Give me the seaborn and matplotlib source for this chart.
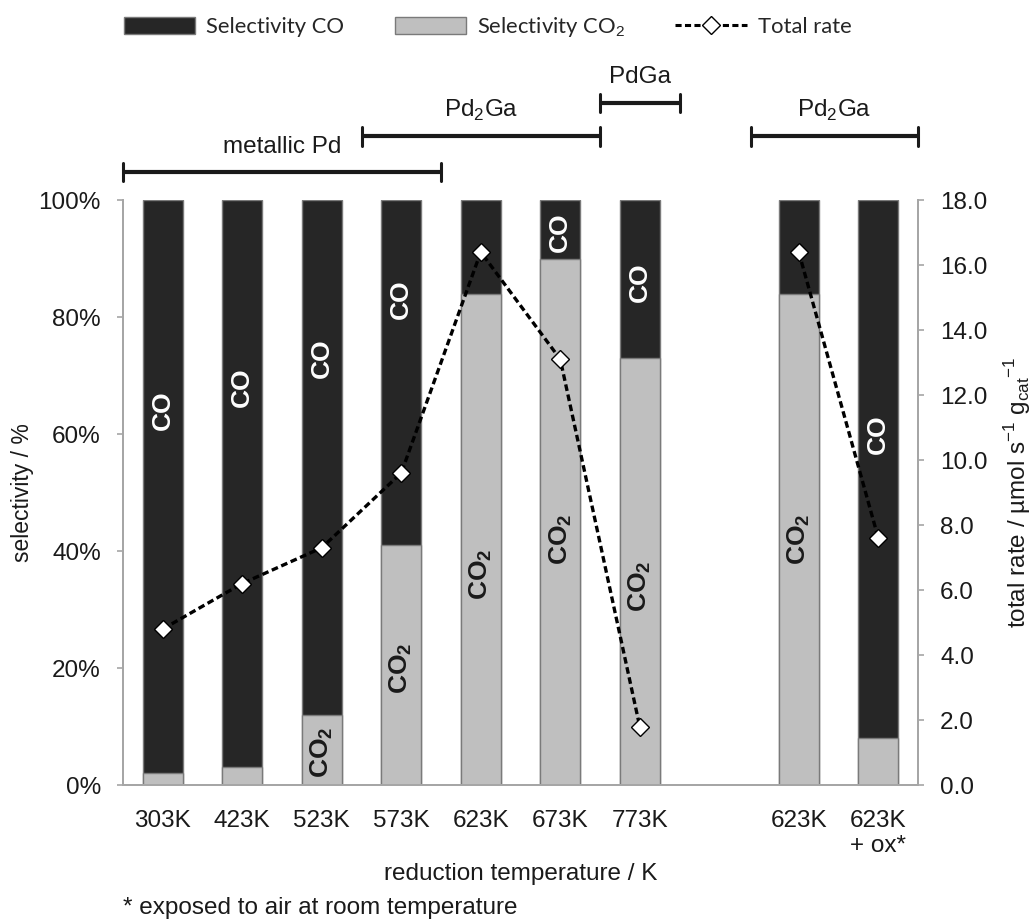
import pandas as pd
import matplotlib.pyplot as plt
import matplotlib.transforms as mtransforms
from matplotlib.patches import Patch
from matplotlib.lines import Line2D
import seaborn as sns

# --- data ---
temps = ["303K", "423K", "523K", "573K", "623K", "673K", "773K", "623K", "623K\n+ ox*"]
sel_co2 = [2, 3, 12, 41, 84, 90, 73, 84, 8]          # % (grey, bottom)
sel_co = [100 - v for v in sel_co2]                   # % (dark, top)
total_rate = [4.8, 6.2, 7.3, 9.6, 16.4, 13.1, 1.8, 16.4, 7.6]  # umol s-1 gcat-1
series_group = [1, 1, 1, 1, 1, 1, 1, 2, 2]             # line is broken between 773K and 623K

# layout (slot positions, gap at slot 7) and in-bar label heights in %
slots = [0, 1, 2, 3, 4, 5, 6, 8, 9]
co_label_y = [64, 68, 73, 83, None, 94.5, 86, None, 60]
co2_label_y = [None, None, 5.5, 20, 36, 42, 34, 42, None]

# phase brackets: (label, x start, x end, bracket height, text height) in axes-fraction y
phases = [("metallic Pd", -0.5, 3.5, 1.048, 1.091),
          ("Pd$_2$Ga", 2.5, 5.5, 1.109, 1.154),
          ("PdGa", 5.5, 6.5, 1.166, 1.210),
          ("Pd$_2$Ga", 7.4, 9.5, 1.109, 1.154)]

DARK = "#262626"
GREY = "#bfbfbf"
EDGE = "#7a7a7a"
AXC = "#a6a6a6"
TXT = "#1a1a1a"
FS = 17.5

sns.set_style("white")
plt.rcParams["font.family"] = ["Liberation Sans", "DejaVu Sans"]
plt.rcParams["mathtext.fontset"] = "custom"
plt.rcParams["mathtext.rm"] = "Liberation Sans"
plt.rcParams["mathtext.bf"] = "Liberation Sans:bold"

df = pd.DataFrame({"slot": slots, "co2": sel_co2, "co": sel_co,
                   "total": [a + b for a, b in zip(sel_co2, sel_co)],
                   "rate": total_rate, "grp": series_group})

fig = plt.figure(figsize=(10.36, 9.21), dpi=100)
ax = fig.add_axes([123 / 1036, 1 - 785 / 921, (918 - 123) / 1036, 585 / 921])

sns.barplot(data=df, x="slot", y="total", native_scale=True, width=0.5,
            color=DARK, edgecolor=EDGE, linewidth=1, saturation=1, ax=ax)
sns.barplot(data=df, x="slot", y="co2", native_scale=True, width=0.5,
            color=GREY, edgecolor=EDGE, linewidth=1, saturation=1, ax=ax)

ax.set_xlim(-0.5, 9.5)
ax.set_ylim(0, 100)
ax.set_yticks([0, 20, 40, 60, 80, 100])
ax.set_yticklabels([f"{v}%" for v in range(0, 101, 20)])
ax.set_xticks(slots)
ax.set_xticklabels(temps, va="top", linespacing=1.2)
ax.set_xlabel("reduction temperature / K", fontsize=FS, labelpad=4, color=TXT)
ax.set_ylabel("selectivity / %", fontsize=16.5, labelpad=3, color=TXT)

for s, yc, yd in zip(slots, co_label_y, co2_label_y):
    if yc is not None:
        ax.text(s, yc, "CO", rotation=90, ha="center", va="center",
                color="white", fontsize=19, fontweight="bold")
    if yd is not None:
        ax.text(s, yd, r"CO$_\mathbf{2}$", rotation=90, ha="center", va="center",
                color=TXT, fontsize=19, fontweight="bold")

ax2 = ax.twinx()
sns.lineplot(data=df, x="slot", y="rate", units="grp", estimator=None, ax=ax2,
             color="black", linewidth=2.4, linestyle=(0, (2, 1.1)),
             marker="D", markersize=9.5, markerfacecolor="white",
             markeredgecolor="black", markeredgewidth=1)
ax2.set_ylim(0, 18)
ax2.set_yticks(range(0, 19, 2))
ax2.set_yticklabels([f"{v:.1f}" for v in range(0, 19, 2)])
ax2.set_ylabel(r"total rate / µmol s$^{\mathregular{-1}}$ g$_{\mathregular{cat}}$$^{\mathregular{-1}}$",
               fontsize=FS, labelpad=10, color=TXT)
ax2.set_xlim(-0.5, 9.5)

for a in (ax, ax2):
    a.spines["top"].set_visible(False)
    for sp in ("left", "right", "bottom"):
        a.spines[sp].set_color(AXC)
        a.spines[sp].set_linewidth(1.3)
    a.tick_params(axis="y", direction="out", length=4, width=1.2, color=AXC,
                  labelsize=FS, pad=12, colors=AXC, labelcolor=TXT)
    a.tick_params(axis="x", length=0, labelsize=FS, pad=18, labelcolor=TXT)
    a.grid(False)

# phase brackets above the plot
trans = mtransforms.blended_transform_factory(ax.transData, ax.transAxes)
cap = 0.016
for name, x0, x1, yb, yt in phases:
    ax.plot([x0, x1], [yb, yb], color=TXT, lw=3, transform=trans, clip_on=False,
            solid_capstyle="butt")
    for xe in (x0, x1):
        ax.plot([xe, xe], [yb - cap, yb + cap], color=TXT, lw=2.2,
                transform=trans, clip_on=False)
    ax.text((x0 + x1) / 2, yt, name, ha="center", va="center", fontsize=FS,
            transform=trans, color=TXT)

# legend
handles = [Patch(facecolor=DARK, edgecolor=EDGE),
           Patch(facecolor=GREY, edgecolor=EDGE),
           Line2D([0], [0], color="black", lw=2.2, linestyle=(0, (2, 1.1)), marker="D",
                  markersize=9.5, markerfacecolor="white", markeredgecolor="black")]
labels = ["Selectivity CO", "Selectivity CO$_2$", "Total rate"]
fig.legend(handles, labels, loc="center left", bbox_to_anchor=(124 / 1036, 1 - 27 / 921),
           ncol=3, frameon=False, handlelength=3.25, handleheight=0.8,
           handletextpad=0.5, columnspacing=2.3, borderpad=0, borderaxespad=0,
           prop={"family": ["Lato", "DejaVu Sans"], "size": 15.8})

fig.text(123 / 1036, 1 - 908 / 921, "* exposed to air at room temperature",
         fontsize=FS, ha="left", va="center", color=TXT)

fig.savefig("out.png", dpi=100)
